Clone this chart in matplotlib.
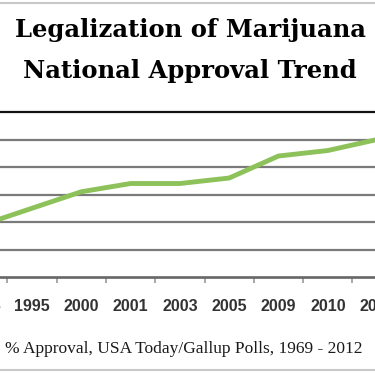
import matplotlib
matplotlib.use('Agg')
import matplotlib.pyplot as plt
from matplotlib.lines import Line2D

# Gallup approval of marijuana legalization (chart is a crop of a wider figure)
years = ['1969', '1972', '1973', '1977', '1979', '1985', '1995', '2000',
         '2001', '2003', '2005', '2009', '2010', '2011', '2012']
approval = [12, 15, 16, 28, 25, 19, 25, 31, 34, 34, 36, 44, 46, 50, 48]
yticks = [0, 10, 20, 30, 40, 50, 60]

green = '#8DC25A'

# axes run past the figure edges so only the middle of the chart is seen
fig = plt.figure(figsize=(3.75, 3.75), dpi=100)
ax = fig.add_axes([-32.1 / 375, 0.2613, 438.8 / 375, 0.44])

x = list(range(len(years)))
ax.plot(x, approval, color=green, lw=3.5, solid_capstyle='round',
        solid_joinstyle='round', zorder=3,
        label='% Approval, USA Today/Gallup Polls, 1969 - 2012')

for v in yticks[1:-1]:
    ax.axhline(v, color='#7a7a7a', lw=1.6, zorder=1)

for s in ['left', 'right']:
    ax.spines[s].set_visible(False)
ax.spines['top'].set_color('#111111')
ax.spines['top'].set_linewidth(1.6)
ax.spines['bottom'].set_color('#666666')
ax.spines['bottom'].set_linewidth(1.9)

ax.set_yticks([])
ax.set_xticks(x)
ax.set_xticklabels(years, fontsize=11.5, color='#333333', fontweight='bold',
                   family='Liberation Sans')
ax.set_xticks([i + 0.5 for i in x], minor=True)
ax.tick_params(axis='x', which='major', length=0, pad=15.5)
ax.tick_params(axis='x', which='minor', length=4, width=1.2, color='#9a9a9a')

i0 = years.index('1995')
ax.set_xlim(i0 - 1.3, i0 + 7.6)
ax.set_ylim(0, 60)

fig.text(0.507, 1 - 37 / 375, 'Legalization of Marijuana', ha='center',
         va='baseline', fontsize=17.5, fontweight='bold', family='DejaVu Serif')
fig.text(0.507, 1 - 78 / 375, 'National Approval Trend', ha='center',
         va='baseline', fontsize=17.5, fontweight='bold', family='DejaVu Serif')

leg = ax.legend(loc='center left', bbox_to_anchor=(-45.3 / 375, 1 - 349 / 375),
                bbox_transform=fig.transFigure, frameon=False,
                handlelength=2.5, handletextpad=0.4, borderaxespad=0,
                borderpad=0,
                prop={'family': 'Liberation Serif', 'size': 12.5})
for t in leg.get_texts():
    t.set_color('#1a1a1a')

# faint page borders from the screenshot
fig.add_artist(Line2D([0, 1], [1 - 3 / 375, 1 - 3 / 375], color='#c8c8c8',
                      lw=1.5, transform=fig.transFigure))
fig.add_artist(Line2D([0, 1], [5 / 375, 5 / 375], color='#c8c8c8',
                      lw=1.5, transform=fig.transFigure))

fig.savefig('out.png', dpi=100)
